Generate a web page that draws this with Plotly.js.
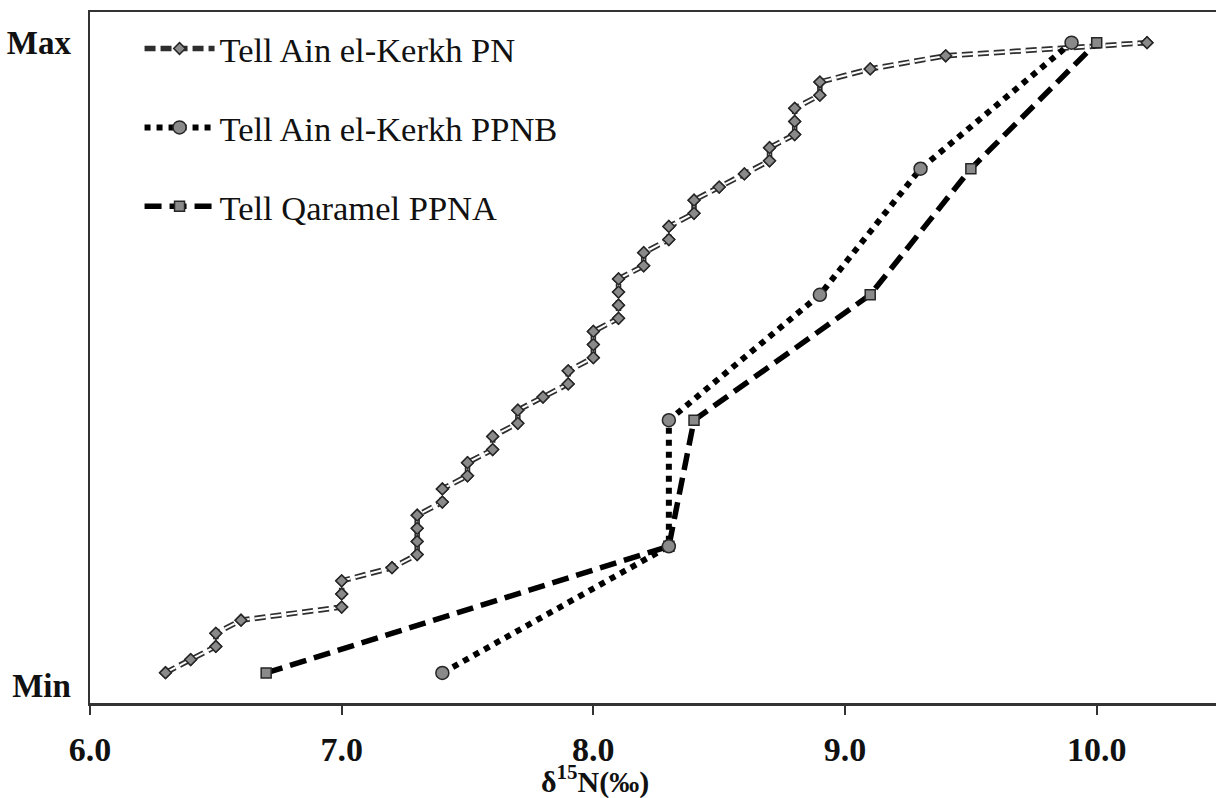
<!DOCTYPE html>
<html>
<head>
<meta charset="utf-8">
<script src="https://cdn.plot.ly/plotly-3.0.1.min.js"></script>
<style>
html,body{margin:0;padding:0;background:#fff;}
#chart{width:1216px;height:798px;}
</style>
</head>
<body>
<div id="chart"></div>
<script>
// ---- data ----
var seriesNames = ["Tell Ain el-Kerkh PN", "Tell Ain el-Kerkh PPNB", "Tell Qaramel PPNA"];

// Tell Ain el-Kerkh PN: δ15N values, sorted (cumulative rank plot)
var pnValues = [6.3, 6.4, 6.5, 6.5, 6.6, 7.0, 7.0, 7.0, 7.2, 7.3,
                7.3, 7.3, 7.3, 7.4, 7.4, 7.5, 7.5, 7.6, 7.6, 7.7,
                7.7, 7.8, 7.9, 7.9, 8.0, 8.0, 8.0, 8.1, 8.1, 8.1,
                8.1, 8.2, 8.2, 8.3, 8.3, 8.4, 8.4, 8.5, 8.6, 8.7,
                8.7, 8.8, 8.8, 8.8, 8.9, 8.9, 9.1, 9.4, 10.2];
// cumulative rank (fraction of samples) of each sorted value
var pnRank = pnValues.map(function (v, i) { return (i + 1) / pnValues.length; });

// Tell Ain el-Kerkh PPNB
var ppnbValues = [7.4, 8.3, 8.3, 8.9, 9.3, 9.9];
var ppnbRank   = [0.020, 0.217, 0.413, 0.608, 0.804, 1.0];

// Tell Qaramel PPNA
var ppnaValues = [6.7, 8.3, 8.4, 9.1, 9.5, 10.0];
var ppnaRank   = [0.020, 0.217, 0.413, 0.608, 0.804, 1.0];

// axis labels
var xTickVals = [6, 7, 8, 9, 10];
var xTickText = ["6.0", "7.0", "8.0", "9.0", "10.0"];
var yTickVals = [0, 1];
var yTickText = ["Min", "Max"];
var xTitle = "δ<sup>15</sup>N(‰)";

// ---- styles ----
var FONT = "Liberation Serif, Times New Roman, serif";
var markerGray = "#8a8a8a";
var outline = "#262626";

var traces = [
  // PN: outer dark dashed stroke (legend entry)
  {
    x: pnValues, y: pnRank, name: seriesNames[0],
    type: "scatter", mode: "lines+markers",
    line: {color: "#2e2e2e", width: 5.5, dash: "11px,5px"},
    marker: {symbol: "diamond", size: 9, color: markerGray, line: {color: outline, width: 1.5}},
    legendgroup: "pn", legendrank: 1, cliponaxis: false
  },
  // PN: inner white stroke giving the double line
  {
    x: pnValues, y: pnRank, name: seriesNames[0],
    type: "scatter", mode: "lines",
    line: {color: "#ffffff", width: 2, dash: "11px,5px"},
    showlegend: false, legendgroup: "pn", hoverinfo: "skip", cliponaxis: false
  },
  // PN: markers on top
  {
    x: pnValues, y: pnRank, name: seriesNames[0],
    type: "scatter", mode: "markers",
    marker: {symbol: "diamond", size: 9, color: markerGray, line: {color: outline, width: 1.5}},
    showlegend: false, legendgroup: "pn", cliponaxis: false
  },
  // PPNA
  {
    x: ppnaValues, y: ppnaRank, name: seriesNames[2],
    type: "scatter", mode: "lines+markers",
    line: {color: "#000000", width: 5.5, dash: "17px,8px"},
    marker: {symbol: "square", size: 10, color: markerGray, line: {color: outline, width: 1.5}},
    legendgroup: "ppna", legendrank: 3, cliponaxis: false
  },
  // PPNB
  {
    x: ppnbValues, y: ppnbRank, name: seriesNames[1],
    type: "scatter", mode: "lines+markers",
    line: {color: "#000000", width: 6, dash: "6px,6px"},
    marker: {symbol: "circle", size: 13, color: markerGray, line: {color: outline, width: 1.5}},
    legendgroup: "ppnb", legendrank: 2, cliponaxis: false
  }
];

var layout = {
  width: 1216, height: 798,
  margin: {l: 90, r: 0, t: 12, b: 95, pad: 0},
  paper_bgcolor: "#ffffff", plot_bgcolor: "#ffffff",
  showlegend: true,
  legend: {
    x: 0.044, y: 0.989, xanchor: "left", yanchor: "top",
    bgcolor: "rgba(255,255,255,0)", borderwidth: 0,
    font: {family: FONT, size: 34.5, color: "#111"},
    traceorder: "grouped", tracegroupgap: 31, itemwidth: 70
  },
  xaxis: {
    range: [6, 10.474], tickvals: xTickVals, ticktext: xTickText,
    showgrid: false, zeroline: false,
    showline: true, linecolor: "#333", linewidth: 2.5, mirror: true,
    ticks: "outside", ticklen: 9, tickwidth: 2, tickcolor: "#333",
    ticklabelstandoff: 6,
    tickfont: {family: FONT, size: 34, color: "#111", weight: "bold"}
  },
  yaxis: {
    range: [-0.0267, 1.0477], tickvals: yTickVals, ticktext: yTickText,
    showgrid: false, zeroline: false,
    showline: true, linecolor: "#333", linewidth: 2.5, mirror: false,
    ticks: "", ticklabelstandoff: 10,
    tickfont: {family: FONT, size: 33, color: "#111", weight: "bold"}
  },
  annotations: [{
    text: xTitle, xref: "paper", yref: "paper",
    x: 0.4485, y: -0.111, xanchor: "center", yanchor: "middle",
    showarrow: false,
    font: {family: FONT, size: 30, color: "#111", weight: "bold"}
  }]
};

Plotly.newPlot("chart", traces, layout, {displayModeBar: false, staticPlot: true});
</script>
</body>
</html>
